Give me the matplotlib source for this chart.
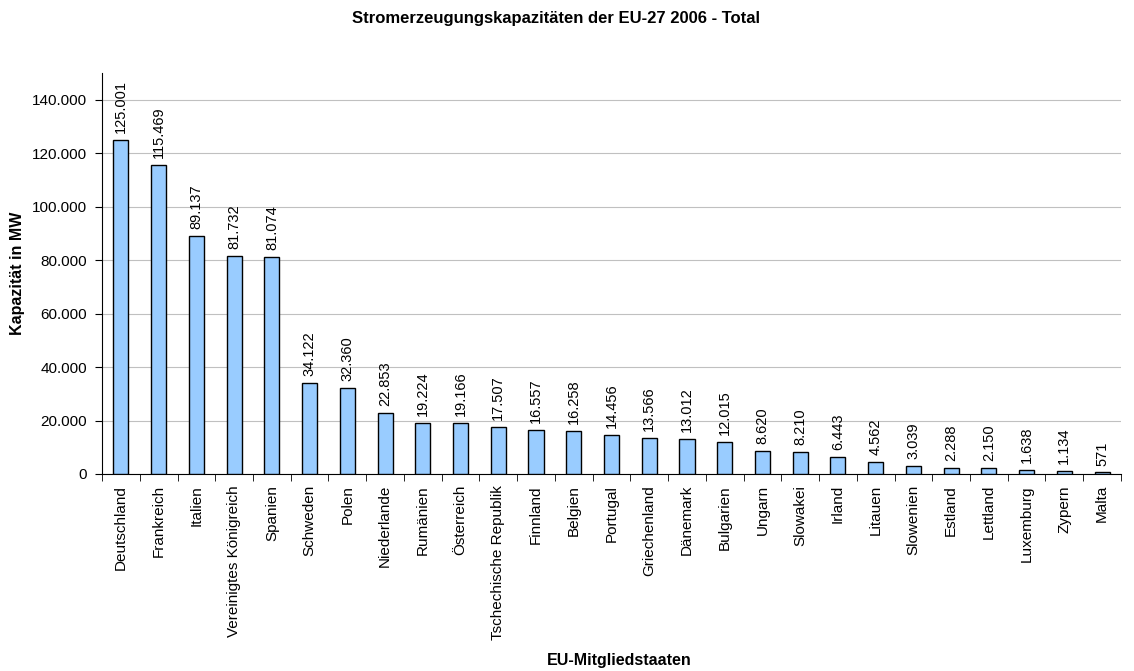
import matplotlib
matplotlib.use("Agg")
import matplotlib.pyplot as plt
import numpy as np

countries = ["Deutschland", "Frankreich", "Italien", "Vereinigtes Königreich", "Spanien",
             "Schweden", "Polen", "Niederlande", "Rumänien", "Österreich",
             "Tschechische Republik", "Finnland", "Belgien", "Portugal", "Griechenland",
             "Dänemark", "Bulgarien", "Ungarn", "Slowakei", "Irland", "Litauen",
             "Slowenien", "Estland", "Lettland", "Luxemburg", "Zypern", "Malta"]
values = [125001, 115469, 89137, 81732, 81074, 34122, 32360, 22853, 19224, 19166,
          17507, 16557, 16258, 14456, 13566, 13012, 12015, 8620, 8210, 6443, 4562,
          3039, 2288, 2150, 1638, 1134, 571]
yticks = [0, 20000, 40000, 60000, 80000, 100000, 120000, 140000]

def fmt(v):
    return f"{v:,}".replace(",", ".")

plt.rcParams['font.family'] = ['Liberation Sans', 'DejaVu Sans']

fig = plt.figure(figsize=(11.34, 6.71), dpi=100)
ax = fig.add_axes([0.09, 0.2936, 0.8985, 0.5975])

x = np.arange(len(countries))
ax.bar(x, values, width=0.4, color="#99CCFF", edgecolor="black", linewidth=1.0, zorder=3)
for xi, v in zip(x, values):
    ax.annotate(fmt(v), (xi, v), xytext=(0, 5), textcoords="offset points",
                rotation=90, ha="center", va="bottom", fontsize=10.5)

ax.set_xlim(-0.5, len(countries) - 0.5)
ax.set_ylim(0, 150000)
ax.set_yticks(yticks)
ax.set_yticklabels([fmt(t) for t in yticks], fontsize=11)
ax.yaxis.grid(True, color="#c0c0c0", linewidth=0.8, zorder=0)
ax.set_xticks(x)
ax.set_xticklabels(countries, rotation=90, fontsize=11)
ax.tick_params(axis="x", length=0, pad=8)
ax.set_xticks(np.arange(len(countries) + 1) - 0.5, minor=True)
ax.tick_params(axis="x", which="minor", length=5, direction="out")
ax.tick_params(axis="y", length=5, direction="out", pad=6)
for s in ["top", "right"]:
    ax.spines[s].set_visible(False)

fig.text(18 / 1134, 1 - 273 / 671, "Kapazität in MW", rotation=90, ha="center", va="center",
         fontsize=11.5, fontweight="bold")
fig.text(619 / 1134, 1 - 661 / 671, "EU-Mitgliedstaaten", ha="center", va="center",
         fontsize=11.5, fontweight="bold")
fig.text(556 / 1134, 1 - 18 / 671, "Stromerzeugungskapazitäten der EU-27 2006 - Total", ha="center",
         va="center", fontsize=12, fontweight="bold")

fig.savefig("out.png", dpi=100)
